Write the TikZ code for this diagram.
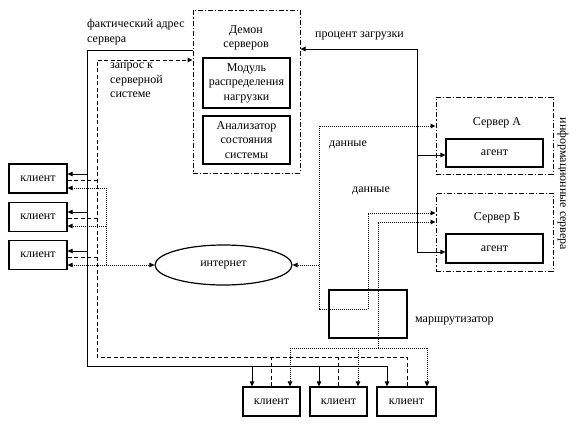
\documentclass[tikz,border=0pt]{standalone}
\usepackage{fontspec}
\setmainfont{Liberation Serif}
\usetikzlibrary{arrows.meta,shapes.geometric}
\begin{document}
\begin{tikzpicture}[x=1pt,y=-1pt,
 font=\fontsize{12}{14.5}\selectfont,
 box/.style={draw,line width=1.2pt,inner sep=0pt,align=center},
 ddbox/.style={draw,line width=1pt,dash pattern=on 5pt off 2pt on 1.2pt off 2pt,inner sep=0pt},
 sl/.style={line width=1pt},
 dsh/.style={line width=1pt,dash pattern=on 4pt off 2.5pt},
 dt/.style={line width=1pt,dash pattern=on 1pt off 1pt},
 >={Triangle[length=5pt,width=4.5pt]},
 lbl/.style={inner sep=0pt,align=left,anchor=north west},
 cl/.style={box,minimum width=58pt,minimum height=29pt}
]
\useasboundingbox (0,0) rectangle (579,426);
% demon
\node[ddbox,minimum width=107pt,minimum height=163pt] (demon) at (246.5,91.5) {};
\node[align=center,inner sep=0pt] (demonlbl) at (246,38) {Демон\\серверов};
\node[box,minimum width=87pt,minimum height=50pt] (mod) at (246.5,83) {Модуль\\распределения\\нагрузки};
\node[box,minimum width=87pt,minimum height=48pt] (anal) at (246.5,140) {Анализатор\\состояния\\системы};
% left clients
\node[cl] (c1) at (38,178.5) {клиент};
\node[cl] (c2) at (38,217) {клиент};
\node[cl] (c3) at (38,255) {клиент};
% internet
\node[draw,ellipse,line width=1.2pt,minimum width=137pt,minimum height=40pt,inner sep=0pt] (inet) at (223.5,265) {интернет};
% servers
\node[ddbox,minimum width=117pt,minimum height=77pt] (srvA) at (494.5,135.5) {};
\node[anchor=base,inner sep=0pt] (srvAlbl) at (497,125) {Сервер А};
\node[box,minimum width=97pt,minimum height=28pt] (agA) at (494.5,153) {агент};
\node[ddbox,minimum width=117pt,minimum height=78pt] (srvB) at (494.5,232) {};
\node[anchor=base,inner sep=0pt] (srvBlbl) at (497,220) {Сервер Б};
\node[box,minimum width=97pt,minimum height=29pt] (agB) at (494.5,248.5) {агент};
\node[rotate=-90,inner sep=0pt] (info) at (563,184) {информационные сервера};
% router
\node[box,minimum width=78pt,minimum height=48pt] (router) at (368,314) {};
\node[anchor=base west,inner sep=0pt] (routerlbl) at (415,322) {маршрутизатор};
% bottom clients
\node[cl,minimum width=57pt] (b1) at (271.5,401.5) {клиент};
\node[cl,minimum width=57pt] (b2) at (338.5,401.5) {клиент};
\node[cl,minimum width=59pt] (b3) at (406.5,401.5) {клиент};
% labels
\node[lbl] (l1) at (87,19) {фактический адрес\\сервера};
\node[lbl] (l2) at (110,63) {запрос к\\серверной\\системе};
\node[anchor=base west,inner sep=0pt] (l3) at (315,37) {процент загрузки};
\node[anchor=base west,inner sep=0pt] (l4) at (329,146) {данные};
\node[anchor=base west,inner sep=0pt] (l5) at (352,192) {данные};
% solid: server address
\draw[sl,->] (demon.west |- 0,50) -- (87,50) -- (87,366) -- (387,366) -- (b3.north -| 387,0);
\draw[sl,->] (87,174) -- (c1.east |- 0,174);
\draw[sl,->] (87,212) -- (c2.east |- 0,212);
\draw[sl,->] (87,251) -- (c3.east |- 0,251);
\draw[sl,->] (252,366) -- (b1.north -| 252,0);
\draw[sl,->] (319,366) -- (b2.north -| 319,0);
% dashed: request
\draw[dsh,->] (b3.north -| 407,0) -- (407,357) -- (97,357) -- (97,60) -- (demon.west |- 0,60);
\draw[dsh] (c1.east |- 0,180) -- (97,180);
\draw[dsh] (c2.east |- 0,218) -- (97,218);
\draw[dsh] (c3.east |- 0,257) -- (97,257);
\draw[dsh] (b1.north -| 271,0) -- (271,357);
\draw[dsh] (b2.north -| 338,0) -- (338,357);
% dotted: data
\draw[dt,<->] (c3.east |- 0,265) -- (inet.west);
\draw[dt,->] (106,265) -- (106,188) -- (c1.east |- 0,188);
\draw[dt,->] (106,226) -- (c2.east |- 0,226);
\draw[dt,->] (319,265) -- (inet.east);
\draw[dt,<->] (srvA.west |- 0,126) -- (319,126) -- (319,309) -- (368,309) -- (368,213) -- (srvB.west |- 0,213);
\draw[dt,<-] (srvB.west |- 0,222) -- (378,222) -- (378,348);
\draw[dt] (290,348) -- (427,348);
\draw[dt,->] (290,348) -- (b1.north -| 290,0);
\draw[dt,->] (358,348) -- (b2.north -| 358,0);
\draw[dt,->] (427,348) -- (b3.north -| 427,0);
% solid: load percentage
\draw[sl,<->] (demon.east |- 0,49) -- (417,49) -- (417,252) -- (agB.west |- 0,252);
\draw[sl,->] (417,155) -- (agA.west |- 0,155);
\end{tikzpicture}
\end{document}
